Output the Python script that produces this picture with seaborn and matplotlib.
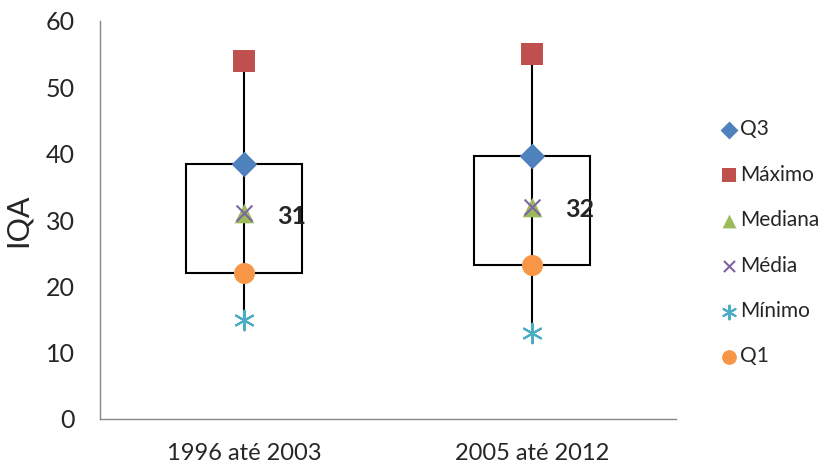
import pandas as pd
import seaborn as sns
from matplotlib import pyplot as plt

# dados
periodos = ['1996 até 2003', '2005 até 2012']
q3 = [38.4, 39.6]
maximo = [54, 55]
mediana = [31, 32]
media = [31, 32]
minimo = [15, 13]
q1 = [22, 23.2]

sns.set_style('white')
plt.rcParams['font.family'] = ['Lato', 'DejaVu Sans']

fig = plt.figure(figsize=(8.24, 4.66), dpi=100)
ax = fig.add_axes([100 / 824, 47 / 466, 576 / 824, 398 / 466])

x = list(range(len(periodos)))

# caixa Q1-Q3 e linha mínimo-máximo
ax.bar(x, [b - a for a, b in zip(q1, q3)], bottom=q1, width=0.4,
       fill=False, edgecolor='black', linewidth=1.5, zorder=1)
ax.vlines(x, minimo, maximo, color='black', linewidth=1.5, zorder=1)

series = [
    ('Q3', q3, 'D', '#4F81BD', 170),
    ('Máximo', maximo, 's', '#C0504D', 230),
    ('Mediana', mediana, '^', '#9BBB59', 200),
    ('Média', media, 'x', '#8064A2', 130),
    ('Mínimo', minimo, (6, 2, 0), '#4BACC6', 200),
    ('Q1', q1, 'o', '#F79646', 230),
]
for nome, vals, mk, cor, s in series:
    df = pd.DataFrame({'x': x, 'y': vals})
    if mk in ('x', (6, 2, 0)):
        sns.scatterplot(data=df, x='x', y='y', marker=mk, color=cor, s=s,
                        linewidth=1.5, label=nome, ax=ax, zorder=3)
    else:
        sns.scatterplot(data=df, x='x', y='y', marker=mk, color=cor, s=s,
                        edgecolor=cor, linewidth=0, label=nome, ax=ax, zorder=3)

for xi, m in zip(x, mediana):
    ax.text(xi + 0.115, m - 0.4, f'{m:d}', fontsize=18, fontweight='bold',
            va='center', ha='left')

ax.set_xlim(-0.5, 1.5)
ax.set_ylim(0, 60)
ax.set_yticks(range(0, 61, 10))
ax.set_xticks(x)
ax.set_xticklabels(periodos)
ax.set_xlabel('')
ax.set_ylabel('IQA', fontsize=22, labelpad=10)
ax.tick_params(axis='y', labelsize=18, length=0, pad=18)
ax.tick_params(axis='x', labelsize=17, length=0, pad=17)
for sp in ['top', 'right']:
    ax.spines[sp].set_visible(False)
for sp in ['left', 'bottom']:
    ax.spines[sp].set_color('#868686')
    ax.spines[sp].set_linewidth(1)

ax.legend(loc='upper left', bbox_to_anchor=(711 / 824, 1 - 111 / 466),
          bbox_transform=fig.transFigure, frameon=False, fontsize=15,
          markerscale=0.7, handletextpad=0.1, handlelength=0.9,
          labelspacing=1.22, borderaxespad=0)

fig.savefig('out.png', dpi=100)
